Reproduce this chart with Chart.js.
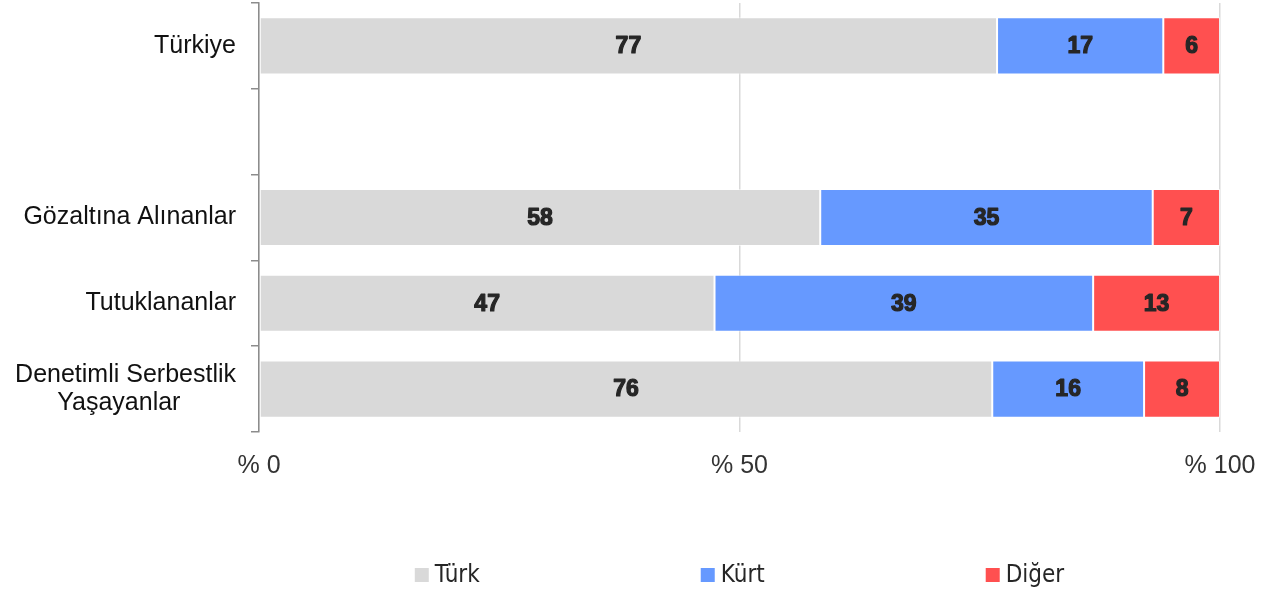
<!DOCTYPE html>
<html>
<head>
<meta charset="utf-8">
<script src="https://cdn.jsdelivr.net/npm/chart.js@4/dist/chart.umd.min.js"></script>
<style>
  html, body { margin: 0; padding: 0; background: #fff; }
  #wrap { width: 1278px; height: 594px; position: relative; }
</style>
</head>
<body>
<div id="wrap"><canvas id="c" width="1278" height="594"></canvas></div>
<script>
// ---- data ----
const categories = ["Türkiye", "", "Gözaltına Alınanlar", "Tutuklananlar", ["Denetimli Serbestlik", "Yaşayanlar        "]];
const seriesNames = ["Türk", "Kürt", "Diğer"];
const turk  = [76.8, null, 58.4, 47.4, 76.3];
const kurt  = [17.3, null, 34.6, 39.4, 15.8];
const diger = [5.9,  null, 7.0,  13.2, 7.9];
const xTickValues = [0, 50, 100];
const xTickPrefix = "% ";

const colors = ["#d9d9d9", "#6699ff", "#ff5050"];

const valueLabels = {
  id: 'valueLabels',
  afterDatasetsDraw(chart) {
    const ctx = chart.ctx;
    ctx.save();
    ctx.font = 'bold 23px "Liberation Sans", Arial, sans-serif';
    ctx.fillStyle = '#262626';
    ctx.strokeStyle = '#262626';
    ctx.lineWidth = 1.2;
    ctx.lineJoin = 'round';
    ctx.textAlign = 'center';
    ctx.textBaseline = 'middle';
    chart.data.datasets.forEach((ds, di) => {
      const meta = chart.getDatasetMeta(di);
      meta.data.forEach((el, i) => {
        const v = ds.data[i];
        if (v === null || v === undefined) return;
        const p = el.getCenterPoint();
        const t = String(Math.round(v));
        ctx.strokeText(t, p.x, p.y + 1);
        ctx.fillText(t, p.x, p.y + 1);
      });
    });
    ctx.restore();
  }
};

const customLegend = {
  id: 'customLegend',
  afterDraw(chart) {
    const ctx = chart.ctx;
    const ca = chart.chartArea;
    ctx.save();
    ctx.font = '24px "Liberation Sans Narrow", "DejaVu Sans Condensed", "Roboto Condensed", sans-serif';
    const box = 14, gapText = 6, gapItem = 221;
    const items = chart.data.datasets.map(ds => ({
      text: ds.label, color: ds.backgroundColor,
      w: box + gapText + ctx.measureText(ds.label).width
    }));
    const total = items.reduce((s, it) => s + it.w, 0) + gapItem * (items.length - 1);
    let x = (ca.left + ca.right) / 2 - total / 2;
    const cy = 575;
    ctx.textBaseline = 'middle';
    ctx.textAlign = 'left';
    items.forEach(it => {
      ctx.fillStyle = it.color;
      ctx.fillRect(x, cy - box / 2, box, box);
      ctx.fillStyle = '#262626';
      ctx.fillText(it.text, x + box + gapText, cy + 1);
      x += it.w + gapItem;
    });
    ctx.restore();
  }
};

const seriesData = [turk, kurt, diger];
new Chart(document.getElementById('c'), {
  type: 'bar',
  data: {
    labels: categories,
    datasets: seriesNames.map((name, i) => ({
      label: name,
      data: seriesData[i],
      backgroundColor: colors[i],
      borderColor: 'rgba(255,255,255,0.55)',
      borderWidth: 1,
      borderSkipped: false,
      categoryPercentage: 1.0,
      barPercentage: 0.665
    }))
  },
  options: {
    indexAxis: 'y',
    responsive: false,
    animation: false,
    layout: { padding: { left: 0, right: 58, top: 3, bottom: 0 } },
    plugins: { legend: { display: false }, tooltip: { enabled: false } },
    scales: {
      x: {
        stacked: true,
        min: 0, max: 100,
        afterBuildTicks(scale) { scale.ticks = xTickValues.map(v => ({ value: v })); },
        afterFit(scale) { scale.height = 162; scale.paddingLeft = 0; scale.paddingRight = 0; },
        border: { display: false },
        grid: { color: '#d9d9d9', lineWidth: 1.5, drawTicks: false },
        ticks: {
          padding: 19,
          color: '#333333',
          font: { family: '"Liberation Sans", Arial, sans-serif', size: 25 },
          callback: v => xTickPrefix + v
        }
      },
      y: {
        stacked: true,
        afterFit(scale) { scale.width = 259; scale.paddingTop = 0; scale.paddingBottom = 0; },
        border: { display: true, color: '#8c8c8c', width: 1.5 },
        grid: { offset: true, drawOnChartArea: false, drawTicks: true, tickLength: 8, color: '#8c8c8c', lineWidth: 1.5 },
        ticks: {
          padding: 15,
          color: '#111',
          font: { family: '"Liberation Sans", Arial, sans-serif', size: 25, lineHeight: 1.12 }
        }
      }
    }
  },
  plugins: [valueLabels, customLegend]
});
</script>
</body>
</html>
